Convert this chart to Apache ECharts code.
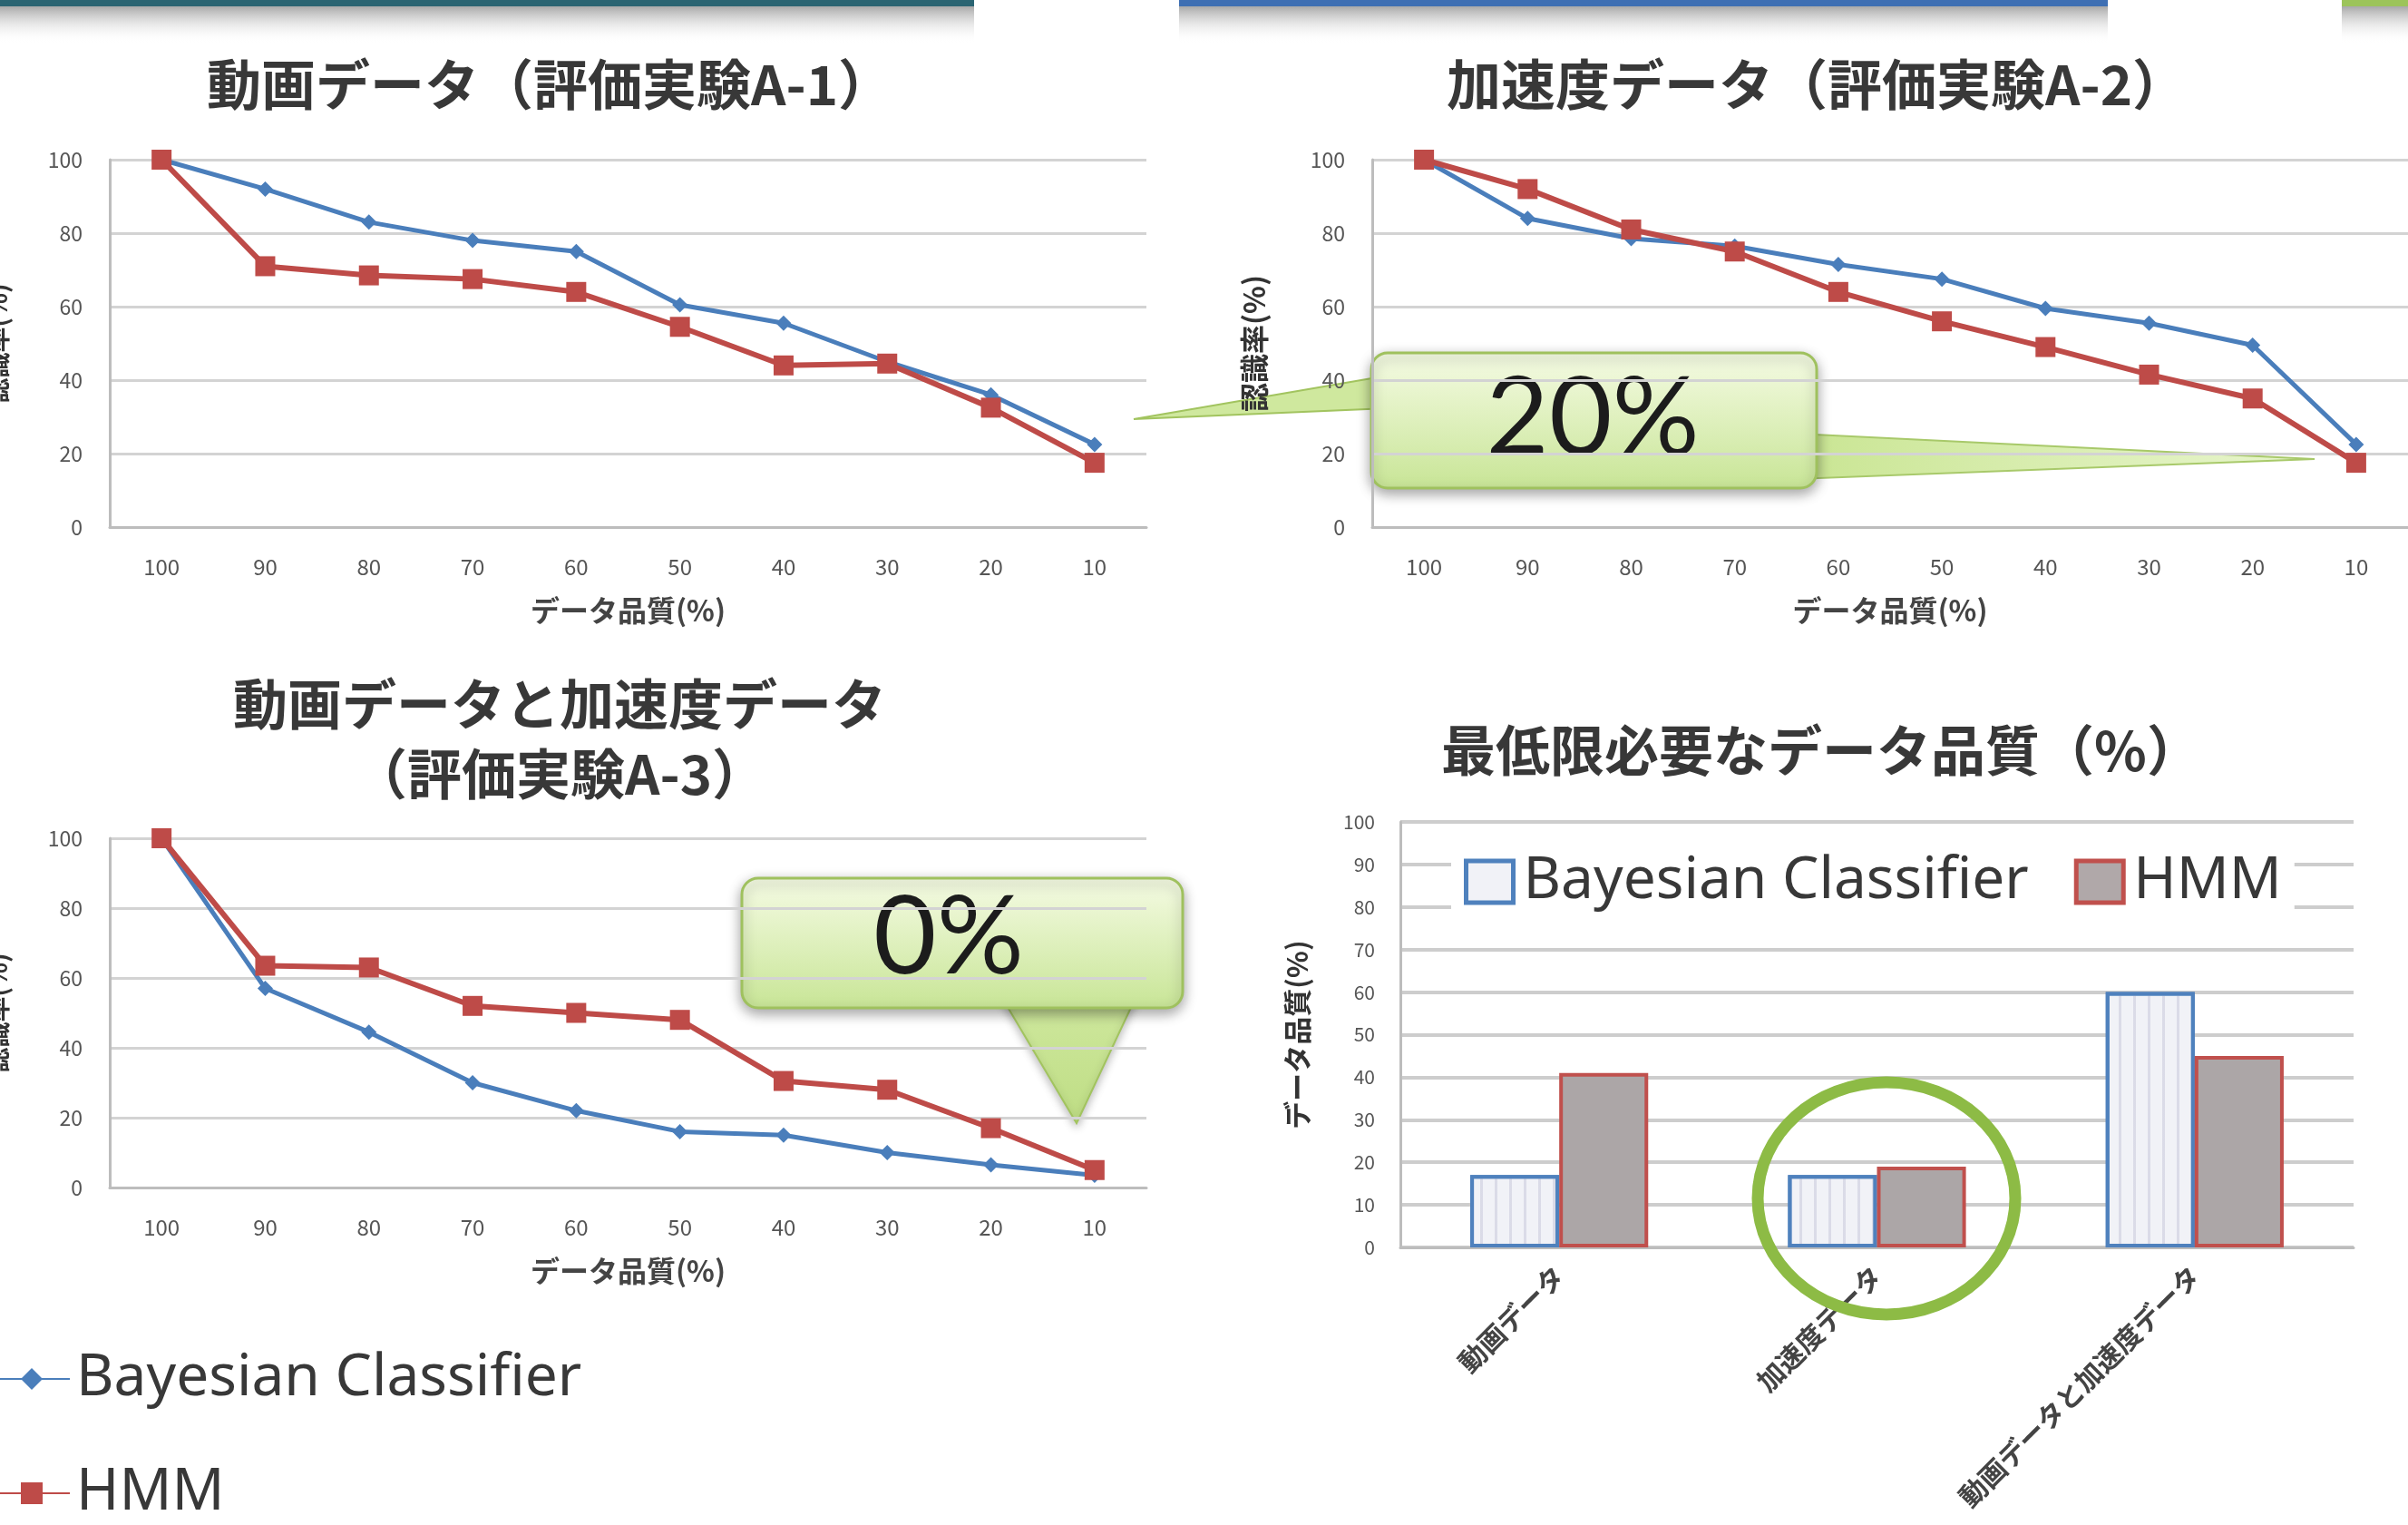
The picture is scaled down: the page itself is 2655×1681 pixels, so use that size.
<!DOCTYPE html>
<html><head><meta charset="utf-8">
<script src="https://cdn.jsdelivr.net/npm/echarts@6/dist/echarts.min.js"></script>
<style>html,body{margin:0;padding:0;background:#fff;overflow:hidden}#c{width:2655px;height:1681px}</style>
</head><body><div id="c"></div>
<script>
// ---- data ----
const qualityLabels = ['100','90','80','70','60','50','40','30','20','10'];
const videoBayes = [100, 92, 83, 78, 75, 60.5, 55.5, 45, 36, 22.5];
const videoHMM   = [100, 71, 68.5, 67.5, 64, 54.5, 44, 44.5, 32.5, 17.5];
const accelBayes = [100, 84, 78.5, 76.5, 71.5, 67.5, 59.5, 55.5, 49.5, 22.5];
const accelHMM   = [100, 92, 81, 75, 64, 56, 49, 41.5, 35, 17.5];
const bothBayes  = [100, 57, 44.5, 30, 22, 16, 15, 10, 6.5, 3.5];
const bothHMM    = [100, 63.5, 63, 52, 50, 48, 30.5, 28, 17, 5];
const barCategories = ['動画データ', '加速度データ', '動画データと加速度データ'];
const minBayes = [17, 17, 60];
const minHMM   = [41, 19, 45];
const seriesNames = ['Bayesian Classifier', 'HMM'];
const titles = ['動画データ（評価実験A-1）', '加速度データ（評価実験A-2）', '動画データと加速度データ\n（評価実験A-3）', '最低限必要なデータ品質（%）'];
const xName = 'データ品質(%)';
const yNameLine = '認識率(%)';
const yNameBar = 'データ品質(%)';
const calloutTexts = ['20%', '0%'];

// ---- style ----
const BLUE = '#4A7EBB', RED = '#BE4B48';
const JP = '"Noto Sans CJK JP", "Noto Sans", sans-serif';
const GRID_COL = '#d3d3d3', AXIS_COL = '#bdbdbd', LABEL_COL = '#555';

const grids = [
  {left: 121, top: 176, width: 1143, height: 405},
  {left: 1513, top: 176, width: 1142, height: 405},
  {left: 121, top: 924, width: 1143, height: 385},
  {left: 1544, top: 906, width: 1051, height: 469}
];

function lineX(gi) {
  return {
    type: 'category', gridIndex: gi, data: qualityLabels, boundaryGap: true,
    axisLine: {show: true, lineStyle: {color: AXIS_COL, width: 3}},
    axisTick: {show: false},
    axisLabel: {fontSize: 24, color: LABEL_COL, margin: 32, fontFamily: JP, interval: 0},
    name: xName, nameLocation: 'middle', nameGap: 76,
    nameTextStyle: {fontSize: 32, fontWeight: 'bold', color: '#444', fontFamily: JP}
  };
}
function lineY(gi, nameGap, nameSize) {
  return {
    type: 'value', gridIndex: gi, min: 0, max: 100, interval: 20,
    axisLine: {show: true, lineStyle: {color: AXIS_COL, width: 3}},
    axisTick: {show: false},
    splitLine: {show: true, lineStyle: {color: GRID_COL, width: 3}},
    axisLabel: {fontSize: 23, color: LABEL_COL, margin: 30, fontFamily: JP},
    name: yNameLine, nameLocation: 'middle', nameGap: nameGap, nameRotate: 90,
    nameTextStyle: {fontSize: nameSize, fontWeight: 'bold', color: '#333', fontFamily: JP}
  };
}
function lineSeries(name, data, gi, isHMM) {
  return {
    type: 'line', name: name, data: data, xAxisIndex: gi, yAxisIndex: gi,
    symbol: isHMM ? 'rect' : 'diamond', symbolSize: isHMM ? 22 : 17,
    color: isHMM ? RED : BLUE,
    lineStyle: {width: isHMM ? 6 : 5, color: isHMM ? RED : BLUE},
    itemStyle: {color: isHMM ? RED : BLUE},
    animation: false, z: isHMM ? 3 : 2
  };
}
function topBar(x, w, color) {
  return [
    {type: 'rect', z: 49, shape: {x: x, y: 6, width: w, height: 42},
     style: {fill: {type: 'linear', x: 0, y: 0, x2: 0, y2: 1, colorStops: [{offset: 0, color: 'rgba(90,90,90,0.55)'}, {offset: 1, color: 'rgba(255,255,255,0)'}]}}},
    {type: 'rect', z: 50, shape: {x: x, y: 0, width: w, height: 7}, style: {fill: color}}
  ];
}

const option = {
  backgroundColor: '#ffffff',
  animation: false,
  title: [
    {text: titles[0], left: 601, top: 58, textAlign: 'center',
     textStyle: {fontSize: 60, fontWeight: 'bold', color: '#383838', fontFamily: JP}},
    {text: titles[1], left: 1998, top: 58, textAlign: 'center',
     textStyle: {fontSize: 60, fontWeight: 'bold', color: '#383838', fontFamily: JP}},
    {text: titles[2], left: 612, top: 733, textAlign: 'center',
     textStyle: {fontSize: 60, fontWeight: 'bold', color: '#383838', fontFamily: JP, lineHeight: 77}},
    {text: titles[3], left: 2003, top: 792, textAlign: 'center',
     textStyle: {fontSize: 60, fontWeight: 'bold', color: '#383838', fontFamily: JP}}
  ],
  legend: [
    {orient: 'vertical', left: -8, top: 1488, padding: 0, itemWidth: 84, itemHeight: 30, itemGap: 62,
     data: seriesNames, selectedMode: false,
     textStyle: {fontSize: 64, color: '#383838', fontFamily: '"Noto Sans", sans-serif', padding: [0,0,0,2]}},
    {orient: 'horizontal', left: 1600, top: 934, itemWidth: 52, itemHeight: 46, itemGap: 50,
     backgroundColor: '#ffffff', padding: [6, 14], selectedMode: false,
     data: [
       {name: seriesNames[0], icon: 'rect', itemStyle: {color: '#f1f2f7', borderColor: '#4F81BD', borderWidth: 5}},
       {name: seriesNames[1], icon: 'rect', itemStyle: {color: '#b0a8a9', borderColor: '#C0504D', borderWidth: 5}}
     ],
     textStyle: {fontSize: 64, color: '#383838', fontFamily: '"Noto Sans", sans-serif', padding: [0,0,0,6]}}
  ],
  grid: grids.map(g => Object.assign({containLabel: false, outerBoundsMode: 'none'}, g)),
  xAxis: [
    lineX(0), lineX(1), lineX(2),
    {type: 'category', gridIndex: 3, data: barCategories,
     axisLine: {show: true, lineStyle: {color: AXIS_COL, width: 3}},
     axisTick: {show: false},
     axisLabel: {rotate: 45, interval: 0, fontSize: 30, fontWeight: 'bold', color: '#444', margin: 26, fontFamily: JP}}
  ],
  yAxis: [
    lineY(0, 110, 28), lineY(1, 114, 32), lineY(2, 110, 28),
    {type: 'value', gridIndex: 3, min: 0, max: 100, interval: 10,
     axisLine: {show: true, lineStyle: {color: AXIS_COL, width: 3}},
     axisTick: {show: false},
     splitLine: {show: true, lineStyle: {color: '#cdcdcd', width: 4}},
     axisLabel: {fontSize: 21, color: LABEL_COL, margin: 28, fontFamily: JP},
     name: yNameBar, nameLocation: 'middle', nameGap: 98, nameRotate: 90,
     nameTextStyle: {fontSize: 31, fontWeight: 'bold', color: '#333', fontFamily: JP}}
  ],
  series: [
    lineSeries(seriesNames[0], videoBayes, 0, false),
    lineSeries(seriesNames[1], videoHMM, 0, true),
    lineSeries(seriesNames[0], accelBayes, 1, false),
    lineSeries(seriesNames[1], accelHMM, 1, true),
    lineSeries(seriesNames[0], bothBayes, 2, false),
    lineSeries(seriesNames[1], bothHMM, 2, true),
    {type: 'bar', name: seriesNames[0], data: minBayes, xAxisIndex: 3, yAxisIndex: 3,
     barGap: '0%', barCategoryGap: '44%', color: '#f1f2f7',
     itemStyle: {color: '#f1f2f7', borderColor: '#4F81BD', borderWidth: 4,
       decal: {symbol: 'rect', symbolSize: 1, dashArrayX: [[3, 13]], dashArrayY: [1, 0], color: 'rgba(170,170,200,0.32)'}}},
    {type: 'bar', name: seriesNames[1], data: minHMM, xAxisIndex: 3, yAxisIndex: 3,
     barGap: '0%', barCategoryGap: '44%', color: '#aca6a7',
     itemStyle: {color: '#aca6a7', borderColor: '#C0504D', borderWidth: 4}}
  ],
  graphic: [].concat(
    topBar(0, 1074, '#2a6472'),
    topBar(1300, 1024, '#3e6fb3'),
    topBar(2582, 90, '#9cc45a'),
    [
    // 20% callout
    {type: 'group', z: 60, children: [
      {type: 'polygon', shape: {points: [[1530, 414], [1250, 462], [1530, 450]]},
       style: {fill: '#cfe89e', stroke: '#a2c45f', lineWidth: 2}},
      {type: 'polygon', shape: {points: [[1980, 478], [2552, 506], [1980, 528]]},
       style: {fill: {type: 'linear', x: 0, y: 0, x2: 1, y2: 0, colorStops: [{offset: 0, color: '#c9e592'}, {offset: 1, color: 'rgba(215,238,170,0.6)'}]}, stroke: '#a8c96a', lineWidth: 2}},
      {type: 'rect', shape: {x: 1512, y: 389, width: 491, height: 149, r: 18},
       style: {fill: {type: 'linear', x: 0, y: 0, x2: 0, y2: 1, colorStops: [{offset: 0, color: '#f5fbe4'}, {offset: 1, color: '#c8e596'}]},
               stroke: '#9fc15e', lineWidth: 3, shadowBlur: 14, shadowColor: 'rgba(0,0,0,0.35)', shadowOffsetY: 5}},
      {type: 'text', x: 1756, y: 462, style: {text: calloutTexts[0], fontSize: 120, fontFamily: 'Lato, "Open Sans", sans-serif', fill: '#1c1c1c', align: 'center', verticalAlign: 'middle'}}
    ]},
    // 0% callout
    {type: 'group', z: 60, children: [
      {type: 'polygon', shape: {points: [[1105, 1100], [1187, 1238], [1252, 1100]]},
       style: {fill: {type: 'linear', x: 0, y: 0, x2: 0, y2: 1, colorStops: [{offset: 0, color: '#cfe89e'}, {offset: 1, color: '#bedd84'}]}, stroke: '#a2c45f', lineWidth: 2, shadowBlur: 10, shadowColor: 'rgba(0,0,0,0.25)', shadowOffsetY: 4}},
      {type: 'rect', shape: {x: 818, y: 968, width: 486, height: 143, r: 18},
       style: {fill: {type: 'linear', x: 0, y: 0, x2: 0, y2: 1, colorStops: [{offset: 0, color: '#f5fbe4'}, {offset: 1, color: '#c8e596'}]},
               stroke: '#9fc15e', lineWidth: 3, shadowBlur: 14, shadowColor: 'rgba(0,0,0,0.35)', shadowOffsetY: 5}},
      {type: 'text', x: 1046, y: 1034, style: {text: calloutTexts[1], fontSize: 120, fontFamily: 'Lato, "Open Sans", sans-serif', fill: '#1c1c1c', align: 'center', verticalAlign: 'middle'}}
    ]},
    // green highlight ellipse
    {type: 'ellipse', z: 60, shape: {cx: 2080, cy: 1321, rx: 142, ry: 128},
     style: {fill: 'none', stroke: '#8dbb45', lineWidth: 13}}
    ])
};

const chart = echarts.init(document.getElementById('c'), null, {renderer: 'canvas'});
chart.setOption(option);
</script>
</body></html>
